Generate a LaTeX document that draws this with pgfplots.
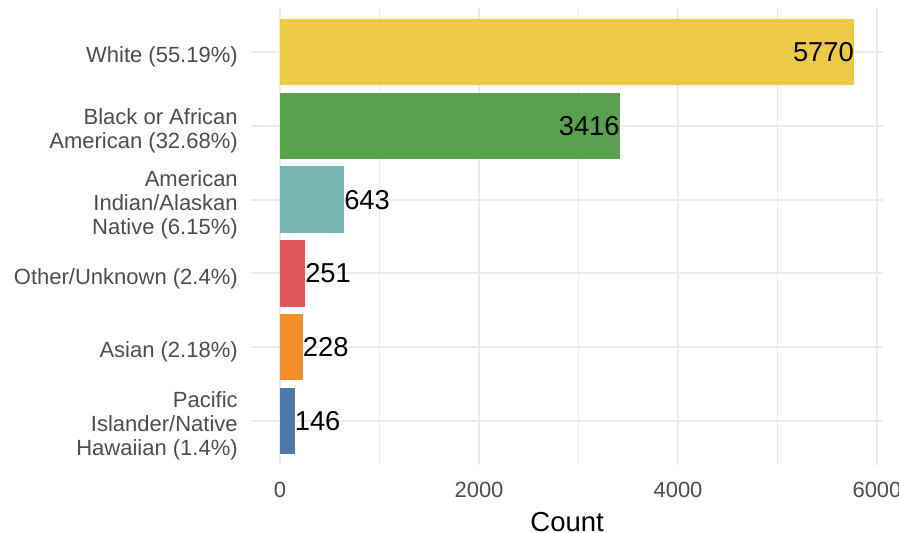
\documentclass[border=0pt]{standalone}
\usepackage{fontspec}
\setmainfont{Liberation Sans}
\usepackage{pgfplots}
\pgfplotsset{compat=1.18}
\definecolor{cwhite}{HTML}{EDC948}
\definecolor{cblack}{HTML}{59A14F}
\definecolor{cindian}{HTML}{76B7B2}
\definecolor{cother}{HTML}{E15759}
\definecolor{casian}{HTML}{F28E2B}
\definecolor{cpacific}{HTML}{4E79A7}
\definecolor{gridc}{HTML}{EBEBEB}
\definecolor{tickc}{HTML}{4D4D4D}

\begin{document}
\begin{tikzpicture}
\path[use as bounding box] (0,0) rectangle (674.25pt,399pt);
\begin{axis}[
  at={(188.5pt,50.25pt)}, anchor=south west,
  scale only axis, width=473.6pt, height=342.75pt,
  xmin=-288.5, xmax=6058.5, ymin=0.4, ymax=6.6,
  xbar, bar width=0.9, bar shift=0pt,
  axis line style={draw=none},
  major tick length=0pt, minor tick length=0pt,
  /pgf/number format/1000 sep={},
  /pgf/number format/assume math mode=true,
  xtick={0,2000,4000,6000},
  xticklabels={0,2000,4000,6000},
  minor xtick={1000,3000,5000},
  ytick={1,2,3,4,5,6},
  yticklabels={
    {Pacific\\Islander/Native\\Hawaiian (1.4\%)},
    {Asian (2.18\%)},
    {Other/Unknown (2.4\%)},
    {American\\Indian/Alaskan\\Native (6.15\%)},
    {Black or African\\American (32.68\%)},
    {White (55.19\%)}},
  xmajorgrids, xminorgrids, ymajorgrids,
  major grid style={draw=gridc, line width=1.3pt},
  minor grid style={draw=gridc, line width=1pt},
  ticklabel style={font=\fontsize{16.5}{18}\selectfont, text=tickc},
  xticklabel style={anchor=north, inner sep=0pt, yshift=-12.5pt},
  yticklabel style={anchor=east, align=right, inner sep=0pt, xshift=-10pt, yshift=-3.75pt},
  xlabel={Count},
  xlabel style={at={(axis description cs:0.5,0)}, anchor=base, yshift=-49.5pt,
    font=\fontsize{20.6}{24}\selectfont, text=black, inner sep=0pt},
  nodes near coords,
  point meta=explicit symbolic,
  every node near coord/.append style={font=\fontsize{20.5}{24}\selectfont,
    text=black, inner sep=0pt},
]
\addplot[fill=cwhite, draw=none, every node near coord/.append style={anchor=east}]
  coordinates {(5770,6) [5770]};
\addplot[fill=cblack, draw=none, every node near coord/.append style={anchor=east}]
  coordinates {(3416,5) [3416]};
\addplot[fill=cindian, draw=none, every node near coord/.append style={anchor=west}]
  coordinates {(643,4) [643]};
\addplot[fill=cother, draw=none, every node near coord/.append style={anchor=west}]
  coordinates {(251,3) [251]};
\addplot[fill=casian, draw=none, every node near coord/.append style={anchor=west}]
  coordinates {(228,2) [228]};
\addplot[fill=cpacific, draw=none, every node near coord/.append style={anchor=west}]
  coordinates {(146,1) [146]};
\end{axis}
\end{tikzpicture}
\end{document}
